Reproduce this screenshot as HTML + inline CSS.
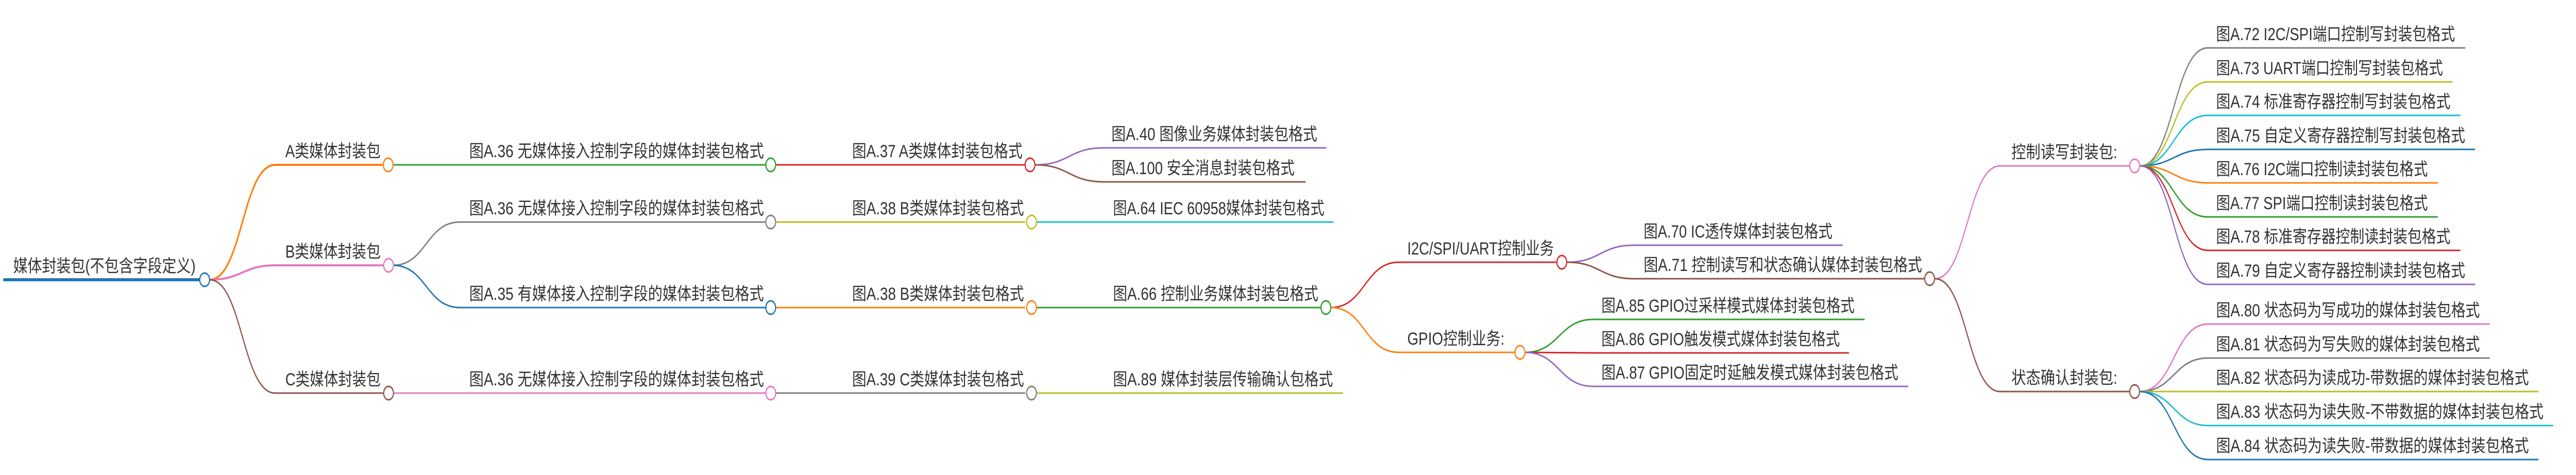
<!DOCTYPE html>
<html><head><meta charset="utf-8"><style>
html,body{margin:0;padding:0;background:#fff;width:100%;height:100%;overflow:hidden}
svg{display:block;width:100vw;height:100vh}
svg text{font-family:"Liberation Sans","Noto Sans CJK SC",sans-serif;font-size:34px;fill:#333}
</style></head><body>
<svg viewBox="0 0 6835 922" preserveAspectRatio="none" xmlns="http://www.w3.org/2000/svg">
<g fill="none" stroke-linecap="round">
<path d="M11 543 H530" stroke="#1f77b4" stroke-width="6"/>
<path d="M556 543 C643 543 643 320 730 320 H1017" stroke="#ff7f0e" stroke-width="4"/>
<path d="M556 543 C643 543 643 515 730 515 H1017" stroke="#e377c2" stroke-width="4"/>
<path d="M556 543 C643 543 643 763 730 763 H1017" stroke="#8c564b" stroke-width="3"/>
<path d="M1043 320 H2031" stroke="#2ca02c" stroke-width="3"/>
<path d="M1043 515 C1131 515 1131 431 1220 431 H2031" stroke="#7f7f7f" stroke-width="3"/>
<path d="M1043 515 C1131 515 1131 597 1220 597 H2031" stroke="#1f77b4" stroke-width="3"/>
<path d="M1043 763 H2031" stroke="#e377c2" stroke-width="3"/>
<path d="M2059 320 H2719" stroke="#d62728" stroke-width="3"/>
<path d="M2059 431 H2719" stroke="#bcbd22" stroke-width="3"/>
<path d="M2059 597 H2719" stroke="#ff7f0e" stroke-width="3"/>
<path d="M2059 763 H2719" stroke="#7f7f7f" stroke-width="3"/>
<path d="M2747 320 C2837 320 2837 287 2927 287 H3518" stroke="#9467bd" stroke-width="3"/>
<path d="M2747 320 C2837 320 2837 353 2927 353 H3463" stroke="#8c564b" stroke-width="3"/>
<path d="M2747 431 H3537" stroke="#17becf" stroke-width="3"/>
<path d="M2747 597 H3504" stroke="#2ca02c" stroke-width="3"/>
<path d="M2747 763 H3562" stroke="#bcbd22" stroke-width="3"/>
<path d="M3532 597 C3621 597 3621 509 3711 509 H4130" stroke="#d62728" stroke-width="3"/>
<path d="M3532 597 C3621 597 3621 684 3711 684 H4019" stroke="#ff7f0e" stroke-width="3"/>
<path d="M4158 509 C4246 509 4246 476 4334 476 H4888" stroke="#9467bd" stroke-width="3"/>
<path d="M4158 509 C4246 509 4246 541 4334 541 H5106" stroke="#8c564b" stroke-width="3"/>
<path d="M4047 684 C4137 684 4137 620 4227 620 H4946" stroke="#2ca02c" stroke-width="3"/>
<path d="M4047 684 C4137 684 4137 685 4227 685 H4905" stroke="#d62728" stroke-width="3"/>
<path d="M4047 684 C4137 684 4137 750 4227 750 H5062" stroke="#9467bd" stroke-width="3"/>
<path d="M5134 541 C5220 541 5220 322 5307 322 H5650" stroke="#e377c2" stroke-width="3"/>
<path d="M5134 541 C5220 541 5220 760 5307 760 H5650" stroke="#8c564b" stroke-width="3"/>
<path d="M5678 322 C5768 322 5768 93 5858 93 H6540" stroke="#7f7f7f" stroke-width="3"/>
<path d="M5678 322 C5768 322 5768 159 5858 159 H6506" stroke="#bcbd22" stroke-width="3"/>
<path d="M5678 322 C5768 322 5768 224 5858 224 H6527" stroke="#17becf" stroke-width="3"/>
<path d="M5678 322 C5768 322 5768 290 5858 290 H6566" stroke="#1f77b4" stroke-width="3"/>
<path d="M5678 322 C5768 322 5768 355 5858 355 H6467" stroke="#ff7f0e" stroke-width="3"/>
<path d="M5678 322 C5768 322 5768 421 5858 421 H6467" stroke="#2ca02c" stroke-width="3"/>
<path d="M5678 322 C5768 322 5768 486 5858 486 H6527" stroke="#d62728" stroke-width="3"/>
<path d="M5678 322 C5768 322 5768 552 5858 552 H6566" stroke="#9467bd" stroke-width="3"/>
<path d="M5678 760 C5768 760 5768 629 5858 629 H6605" stroke="#e377c2" stroke-width="3"/>
<path d="M5678 760 C5768 760 5768 695 5858 695 H6605" stroke="#7f7f7f" stroke-width="3"/>
<path d="M5678 760 H6734" stroke="#bcbd22" stroke-width="3"/>
<path d="M5678 760 C5768 760 5768 826 5858 826 H6773" stroke="#17becf" stroke-width="3"/>
<path d="M5678 760 C5768 760 5768 892 5858 892 H6734" stroke="#1f77b4" stroke-width="3"/>
</g>
<g fill="#fff" stroke-width="3">
<circle cx="543" cy="543" r="13" stroke="#1f77b4"/>
<circle cx="1030" cy="320" r="13" stroke="#ff7f0e"/>
<circle cx="1031" cy="515" r="13" stroke="#e377c2"/>
<circle cx="1031" cy="763" r="13" stroke="#8c564b"/>
<circle cx="2045" cy="320" r="13" stroke="#2ca02c"/>
<circle cx="2045" cy="431" r="13" stroke="#7f7f7f"/>
<circle cx="2045" cy="597" r="13" stroke="#1f77b4"/>
<circle cx="2045" cy="763" r="13" stroke="#e377c2"/>
<circle cx="2733" cy="320" r="13" stroke="#d62728"/>
<circle cx="2737" cy="431" r="13" stroke="#bcbd22"/>
<circle cx="2737" cy="597" r="13" stroke="#ff7f0e"/>
<circle cx="2737" cy="763" r="13" stroke="#7f7f7f"/>
<circle cx="3518" cy="597" r="13" stroke="#2ca02c"/>
<circle cx="4144" cy="509" r="13" stroke="#d62728"/>
<circle cx="4033" cy="684" r="13" stroke="#ff7f0e"/>
<circle cx="5120" cy="541" r="13" stroke="#8c564b"/>
<circle cx="5664" cy="322" r="13" stroke="#e377c2"/>
<circle cx="5664" cy="760" r="13" stroke="#8c564b"/>
</g>
<g>
<text x="35" y="528" textLength="484" lengthAdjust="spacingAndGlyphs">媒体封装包(不包含字段定义)</text>
<text x="757" y="305" textLength="253" lengthAdjust="spacingAndGlyphs">A类媒体封装包</text>
<text x="757" y="500" textLength="253" lengthAdjust="spacingAndGlyphs">B类媒体封装包</text>
<text x="757" y="748" textLength="253" lengthAdjust="spacingAndGlyphs">C类媒体封装包</text>
<text x="1245" y="305" textLength="782" lengthAdjust="spacingAndGlyphs">图A.36 无媒体接入控制字段的媒体封装包格式</text>
<text x="1245" y="416" textLength="782" lengthAdjust="spacingAndGlyphs">图A.36 无媒体接入控制字段的媒体封装包格式</text>
<text x="1245" y="582" textLength="782" lengthAdjust="spacingAndGlyphs">图A.35 有媒体接入控制字段的媒体封装包格式</text>
<text x="1245" y="748" textLength="782" lengthAdjust="spacingAndGlyphs">图A.36 无媒体接入控制字段的媒体封装包格式</text>
<text x="2261" y="305" textLength="452" lengthAdjust="spacingAndGlyphs">图A.37 A类媒体封装包格式</text>
<text x="2261" y="416" textLength="456" lengthAdjust="spacingAndGlyphs">图A.38 B类媒体封装包格式</text>
<text x="2261" y="582" textLength="456" lengthAdjust="spacingAndGlyphs">图A.38 B类媒体封装包格式</text>
<text x="2261" y="748" textLength="456" lengthAdjust="spacingAndGlyphs">图A.39 C类媒体封装包格式</text>
<text x="2949" y="272" textLength="546" lengthAdjust="spacingAndGlyphs">图A.40 图像业务媒体封装包格式</text>
<text x="2949" y="338" textLength="486" lengthAdjust="spacingAndGlyphs">图A.100 安全消息封装包格式</text>
<text x="2953" y="416" textLength="561" lengthAdjust="spacingAndGlyphs">图A.64 IEC 60958媒体封装包格式</text>
<text x="2953" y="582" textLength="545" lengthAdjust="spacingAndGlyphs">图A.66 控制业务媒体封装包格式</text>
<text x="2953" y="748" textLength="584" lengthAdjust="spacingAndGlyphs">图A.89 媒体封装层传输确认包格式</text>
<text x="3734" y="494" textLength="389" lengthAdjust="spacingAndGlyphs">I2C/SPI/UART控制业务</text>
<text x="3734" y="669" textLength="258" lengthAdjust="spacingAndGlyphs">GPIO控制业务:</text>
<text x="4361" y="461" textLength="501" lengthAdjust="spacingAndGlyphs">图A.70 IC透传媒体封装包格式</text>
<text x="4361" y="526" textLength="739" lengthAdjust="spacingAndGlyphs">图A.71 控制读写和状态确认媒体封装包格式</text>
<text x="4249" y="605" textLength="672" lengthAdjust="spacingAndGlyphs">图A.85 GPIO过采样模式媒体封装包格式</text>
<text x="4249" y="670" textLength="633" lengthAdjust="spacingAndGlyphs">图A.86 GPIO触发模式媒体封装包格式</text>
<text x="4249" y="735" textLength="788" lengthAdjust="spacingAndGlyphs">图A.87 GPIO固定时延触发模式媒体封装包格式</text>
<text x="5337" y="307" textLength="281" lengthAdjust="spacingAndGlyphs">控制读写封装包:</text>
<text x="5337" y="745" textLength="281" lengthAdjust="spacingAndGlyphs">状态确认封装包:</text>
<text x="5880" y="78" textLength="634" lengthAdjust="spacingAndGlyphs">图A.72 I2C/SPI端口控制写封装包格式</text>
<text x="5880" y="144" textLength="602" lengthAdjust="spacingAndGlyphs">图A.73 UART端口控制写封装包格式</text>
<text x="5880" y="209" textLength="622" lengthAdjust="spacingAndGlyphs">图A.74 标准寄存器控制写封装包格式</text>
<text x="5880" y="275" textLength="661" lengthAdjust="spacingAndGlyphs">图A.75 自定义寄存器控制写封装包格式</text>
<text x="5880" y="340" textLength="562" lengthAdjust="spacingAndGlyphs">图A.76 I2C端口控制读封装包格式</text>
<text x="5880" y="406" textLength="562" lengthAdjust="spacingAndGlyphs">图A.77 SPI端口控制读封装包格式</text>
<text x="5880" y="471" textLength="622" lengthAdjust="spacingAndGlyphs">图A.78 标准寄存器控制读封装包格式</text>
<text x="5880" y="537" textLength="661" lengthAdjust="spacingAndGlyphs">图A.79 自定义寄存器控制读封装包格式</text>
<text x="5880" y="614" textLength="700" lengthAdjust="spacingAndGlyphs">图A.80 状态码为写成功的媒体封装包格式</text>
<text x="5880" y="680" textLength="700" lengthAdjust="spacingAndGlyphs">图A.81 状态码为写失败的媒体封装包格式</text>
<text x="5880" y="745" textLength="830" lengthAdjust="spacingAndGlyphs">图A.82 状态码为读成功-带数据的媒体封装包格式</text>
<text x="5880" y="811" textLength="869" lengthAdjust="spacingAndGlyphs">图A.83 状态码为读失败-不带数据的媒体封装包格式</text>
<text x="5880" y="877" textLength="830" lengthAdjust="spacingAndGlyphs">图A.84 状态码为读失败-带数据的媒体封装包格式</text>
</g>
</svg>
</body></html>
